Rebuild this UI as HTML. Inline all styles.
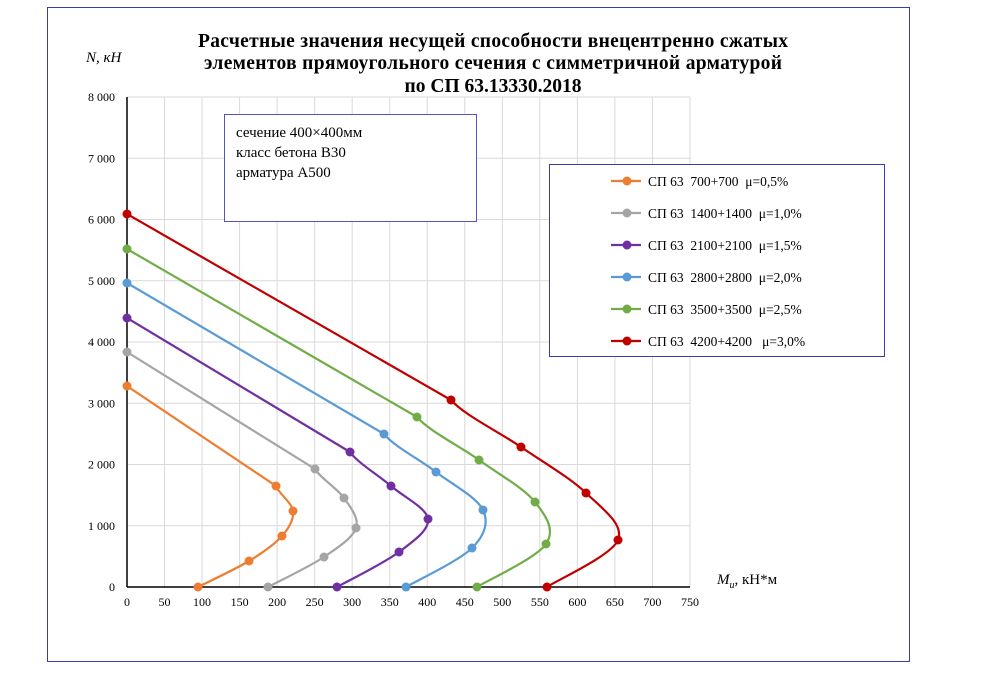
<!DOCTYPE html>
<html><head><meta charset="utf-8"><style>
body{margin:0;background:#fff;width:1000px;height:678px;overflow:hidden;font-family:"Liberation Serif",serif}
#leg text{white-space:pre}
</style></head><body>
<svg id="s" width="1000" height="678" xmlns="http://www.w3.org/2000/svg" font-family="Liberation Serif, serif">
<rect x="47.5" y="7.5" width="862" height="654" fill="#fff" stroke="#3b3bb0" stroke-width="1"/>
<g id="grid" stroke="#d9d9d9" stroke-width="1"></g>
<line x1="127" y1="97" x2="127" y2="587" stroke="#000" stroke-width="1.5"/>
<line x1="127" y1="587" x2="690" y2="587" stroke="#000" stroke-width="1.5"/>
<g id="yl" font-size="12" text-anchor="end"></g>
<g id="xl" font-size="12" text-anchor="middle"></g>
<text x="493" y="47" font-size="19.5" font-weight="bold" text-anchor="middle" textLength="590">Расчетные значения несущей способности внецентренно сжатых</text>
<text x="493" y="69" font-size="19.5" font-weight="bold" text-anchor="middle" textLength="578">элементов прямоугольного сечения с симметричной арматурой</text>
<text x="493" y="92" font-size="19.5" font-weight="bold" text-anchor="middle">по СП 63.13330.2018</text>
<text x="86" y="62" font-size="15" font-style="italic">N, кН</text>
<text x="717" y="584" font-size="15"><tspan font-style="italic">M</tspan><tspan font-style="italic" font-size="10" dy="4">u</tspan><tspan dy="-4">, кН*м</tspan></text>
<rect x="224.5" y="114.5" width="252" height="107" fill="#fff" stroke="#5555bb"/>
<text x="236" y="137" font-size="15">сечение 400×400мм</text>
<text x="236" y="157" font-size="15">класс бетона В30</text>
<text x="236" y="177" font-size="15">арматура А500</text>
<g id="series"></g>
<rect x="549.5" y="164.5" width="335" height="192" fill="#fff" stroke="#3b3bb0"/>
<g id="leg" font-size="13.5"></g>
</svg>
<script>
var ns="http://www.w3.org/2000/svg";
function el(p,t,a,txt){var e=document.createElementNS(ns,t);for(var k in a)e.setAttribute(k,a[k]);if(txt!=null)e.textContent=txt;document.getElementById(p).appendChild(e);return e;}
for(var i=1;i<=15;i++){var x=127+i*37.53;el("grid","line",{x1:x,y1:97,x2:x,y2:587});}
for(var j=1;j<=8;j++){var y=587-j*61.25;el("grid","line",{x1:127,y1:y,x2:690,y2:y});}
for(var j=0;j<=8;j++){var y=587-j*61.25;el("yl","text",{x:115,y:y+4},j==0?"0":j+" 000");}
for(var i=0;i<=15;i++){el("xl","text",{x:127+i*37.53,y:606},String(i*50));}
var S=[
["#ed7d31",[[127,386],[276,486],[293,511],[282,536],[249,561],[198,587]],"СП 63  700+700  μ=0,5%"],
["#a5a5a5",[[127,352],[315,469],[344,498],[356,528],[324,557],[268,587]],"СП 63  1400+1400  μ=1,0%"],
["#7030a0",[[127,318],[350,452],[391,486],[428,519],[399,552],[337,587]],"СП 63  2100+2100  μ=1,5%"],
["#5b9bd5",[[127,283],[384,434],[436,472],[483,510],[472,548],[406,587]],"СП 63  2800+2800  μ=2,0%"],
["#70ad47",[[127,249],[417,417],[479,460],[535,502],[546,544],[477,587]],"СП 63  3500+3500  μ=2,5%"],
["#c00000",[[127,214],[451,400],[521,447],[586,493],[618,540],[547,587]],"СП 63  4200+4200   μ=3,0%"]];
S.forEach(function(s,k){
 var p=s[1],d="M"+p[0]+"L"+p[1];
 for(var i=1;i<p.length-1;i++){
  var p0=p[i-1],p1=p[i],p2=p[i+1],p3=p[i+2]||p2;
  if(i==1)p0=[p1[0]-(p2[0]-p1[0])*0.2,p1[1]-(p2[1]-p1[1])];
  var c1=[p1[0]+(p2[0]-p0[0])/6,p1[1]+(p2[1]-p0[1])/6],c2=[p2[0]-(p3[0]-p1[0])/6,p2[1]-(p3[1]-p1[1])/6];
  d+="C"+c1+" "+c2+" "+p2;
 }
 el("series","path",{d:d,fill:"none",stroke:s[0],"stroke-width":2.2});
 p.forEach(function(q){el("series","circle",{cx:q[0],cy:q[1],r:4.5,fill:s[0]});});
 var ly=181+k*32;
 el("leg","line",{x1:611,y1:ly,x2:641,y2:ly,stroke:s[0],"stroke-width":2.2});
 el("leg","circle",{cx:627,cy:ly,r:4.5,fill:s[0]});
 el("leg","text",{x:648,y:ly+5},s[2]);
});
</script>
</body></html>
